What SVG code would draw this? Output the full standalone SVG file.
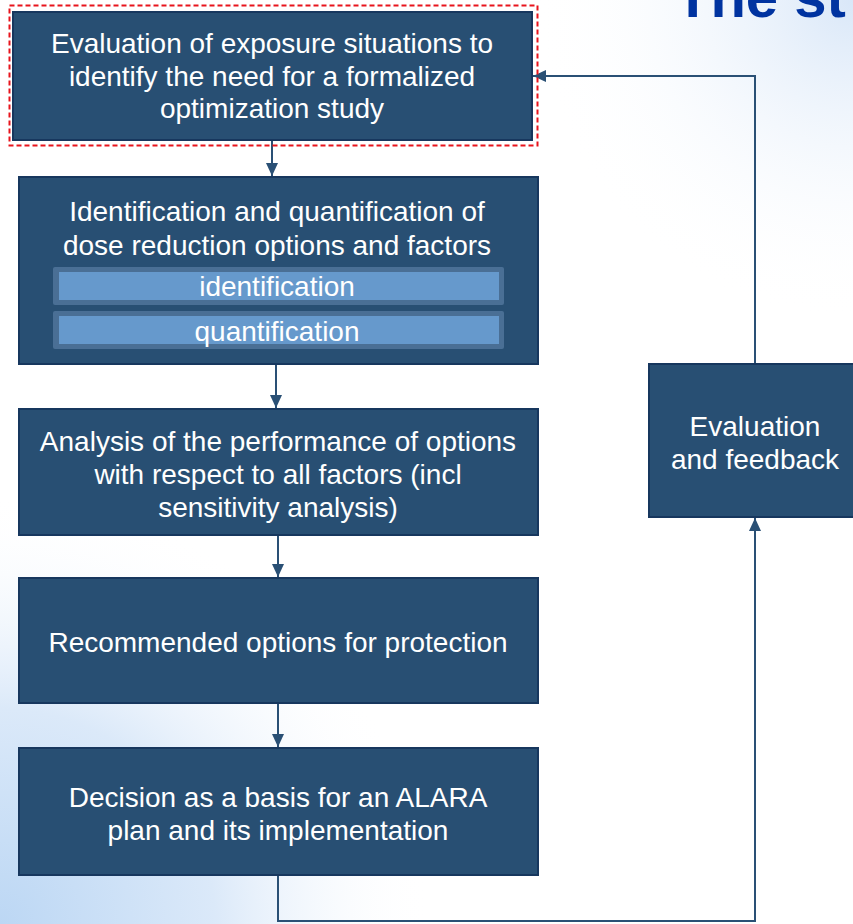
<svg xmlns="http://www.w3.org/2000/svg" width="853" height="924" viewBox="0 0 853 924">
<defs>
<radialGradient id="bgBL" cx="0" cy="924" r="430" gradientUnits="userSpaceOnUse">
<stop offset="0" stop-color="#bcd7f4"/><stop offset="0.5" stop-color="#dbe9f9"/><stop offset="1" stop-color="#ffffff" stop-opacity="0"/>
</radialGradient>
<radialGradient id="bgTR" cx="853" cy="0" r="320" gradientUnits="userSpaceOnUse">
<stop offset="0" stop-color="#d9e7f8"/><stop offset="1" stop-color="#ffffff" stop-opacity="0"/>
</radialGradient>
<marker id="arr" markerWidth="14" markerHeight="14" refX="13" refY="7" orient="auto" markerUnits="userSpaceOnUse">
<path d="M0,1 L13,7 L0,13 Z" fill="#2a5075"/>
</marker>
<style>
.box{fill:#284f73;stroke:#17375e;stroke-width:2}
.t{font-family:"Liberation Sans",Arial,sans-serif;font-size:28px;fill:#ffffff;text-anchor:middle}
.bar-o{fill:#4a6f95}
.bar-i{fill:#6699cc}
.c{fill:none;stroke:#2a5075;stroke-width:2}
</style>
</defs>
<rect width="853" height="924" fill="#ffffff"/>
<rect width="853" height="924" fill="url(#bgTR)"/>
<rect width="853" height="924" fill="url(#bgBL)"/>
<text x="675" y="17" font-family="Liberation Sans,Arial,sans-serif" font-weight="bold" font-size="58" fill="#0033a0">The st</text>

<g id="connectors">
<line class="c" x1="272" y1="141" x2="272" y2="176" marker-end="url(#arr)"/>
<line class="c" x1="276" y1="365" x2="276" y2="408" marker-end="url(#arr)"/>
<line class="c" x1="278" y1="536" x2="278" y2="577" marker-end="url(#arr)"/>
<line class="c" x1="278" y1="704" x2="278" y2="747" marker-end="url(#arr)"/>
<polyline class="c" points="278,876 278,921 755,921 755,518" marker-end="url(#arr)"/>
<polyline class="c" points="755,364 755,76 533,76" marker-end="url(#arr)"/>
</g>

<g id="n1">
<rect x="9.5" y="5.5" width="528" height="140" fill="none" stroke="#e8141c" stroke-width="2" stroke-dasharray="5,3"/>
<rect class="box" x="13" y="12" width="519" height="128"/>
<text class="t" x="272" y="53">Evaluation  of exposure situations to</text>
<text class="t" x="272" y="86">identify the need for a formalized</text>
<text class="t" x="272" y="118">optimization study</text>
</g>

<g id="n2">
<rect class="box" x="19" y="177" width="519" height="187"/>
<text class="t" x="277" y="221">Identification and quantification of</text>
<text class="t" x="277" y="255">dose reduction options and factors</text>
<rect class="bar-o" x="53" y="267" width="451" height="38" rx="2"/>
<rect class="bar-i" x="59" y="272" width="440" height="28"/>
<text class="t" x="277" y="296">identification</text>
<rect class="bar-o" x="53" y="311" width="451" height="38" rx="2"/>
<rect class="bar-i" x="59" y="316" width="440" height="28"/>
<text class="t" x="277" y="341">quantification</text>
</g>

<g id="n3">
<rect class="box" x="19" y="409" width="519" height="126"/>
<text class="t" x="278" y="451">Analysis of the performance  of options</text>
<text class="t" x="278" y="484">with respect to all factors (incl</text>
<text class="t" x="278" y="517">sensitivity analysis)</text>
</g>

<g id="n4">
<rect class="box" x="19" y="578" width="519" height="125"/>
<text class="t" x="278" y="652">Recommended  options for protection</text>
</g>

<g id="n5">
<rect class="box" x="19" y="748" width="519" height="127"/>
<text class="t" x="278" y="807">Decision as a basis for an ALARA</text>
<text class="t" x="278" y="840">plan and its implementation</text>
</g>

<g id="n6">
<rect class="box" x="649" y="364" width="214" height="153"/>
<text class="t" x="755" y="436">Evaluation</text>
<text class="t" x="755" y="469">and feedback</text>
</g>
</svg>
